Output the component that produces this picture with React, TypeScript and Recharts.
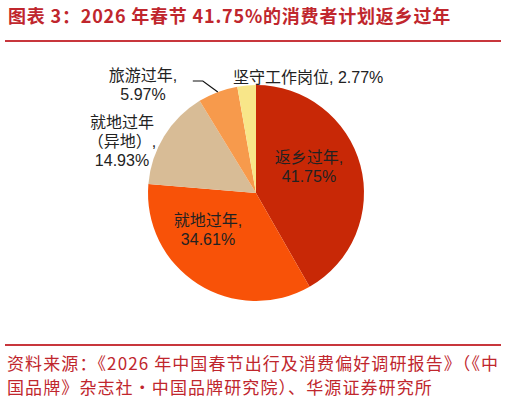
import React from "react";
import { PieChart, Pie, Cell } from "recharts";

const categories = ["返乡过年", "就地过年", "就地过年（异地）", "旅游过年", "坚守工作岗位"];
const shares = [41.75, 34.61, 14.93, 5.97, 2.77];
const labelLines = [
	["返乡过年,", "41.75%"],
	["就地过年,", "34.61%"],
	["就地过年", "（异地）,", "14.93%"],
	["旅游过年,", "5.97%"],
	["坚守工作岗位, 2.77%"],
];

const COLORS = ["#C82806", "#F85208", "#D8BC96", "#F79A4C", "#F8E689"];
const RED = "#C0262D";

// label anchor offsets from pie centre (px), per slice
const LABEL_POS = [
	{ dx: 53, dy: -36, anchor: "middle" },
	{ dx: -48, dy: 27, anchor: "middle" },
	{ dx: -134, dy: -71, anchor: "middle" },
	{ dx: -113, dy: -118, anchor: "middle" },
	{ dx: -23, dy: -116, anchor: "start" },
];

const data = categories.map((name, i) => ({ name, value: shares[i] }));
const RADIAN = Math.PI / 180;

function renderLabel(props: any) {
	const { cx, cy, index } = props;
	const pos = LABEL_POS[index];
	const lines = labelLines[index];
	return (
		<text
			x={cx + pos.dx}
			y={cy + pos.dy}
			textAnchor={pos.anchor}
			dominantBaseline="central"
			fill="#222"
			fontSize={16}
			fontFamily="'Liberation Sans', 'Noto Sans CJK SC', sans-serif"
		>
			{lines.map((l, i) => (
				<tspan key={i} x={cx + pos.dx} dy={i === 0 ? 0 : 19}>
					{l}
				</tspan>
			))}
		</text>
	);
}

function renderLabelLine(props: any) {
	const { cx, cy, midAngle, outerRadius, index } = props;
	if (index !== 3) return <g />;
	const sx = cx + outerRadius * Math.cos(-midAngle * RADIAN);
	const sy = cy + outerRadius * Math.sin(-midAngle * RADIAN);
	const mx = sx - 15;
	const my = sy - 11;
	return (
		<path
			d={`M${sx},${sy} L${mx},${my} L${mx - 10},${my}`}
			stroke="#111"
			strokeWidth={1.2}
			fill="none"
		/>
	);
}

export default function App() {
	return (
		<div
			style={{
				position: "relative",
				width: 506,
				height: 401,
				background: "#fff",
				fontFamily: "'Noto Sans CJK SC', sans-serif",
			}}
		>
			<style>{`body{margin:0}`}</style>
			<div
				style={{
					position: "absolute",
					left: 8,
					top: 2,
					fontSize: 18,
					fontWeight: 700,
					color: RED,
					letterSpacing: 0.8,
					whiteSpace: "nowrap",
					lineHeight: "26px",
				}}
			>
				图表 3：2026 年春节 41.75%的消费者计划返乡过年
			</div>
			<div
				style={{
					position: "absolute",
					left: 5,
					top: 40,
					width: 496,
					height: 2,
					background: "#C8363C",
				}}
			/>
			<div style={{ position: "absolute", left: 0, top: 0 }}>
				<PieChart
					width={506}
					height={401}
					margin={{ top: 0, right: 0, bottom: 0, left: 0 }}
				>
					<Pie
						data={data}
						dataKey="value"
						nameKey="name"
						cx={256}
						cy={193}
						outerRadius={108}
						startAngle={90}
						endAngle={-270}
						stroke="none"
						isAnimationActive={false}
						label={renderLabel}
						labelLine={renderLabelLine}
					>
						{data.map((_, i) => (
							<Cell key={`cell-${i}`} fill={COLORS[i]} />
						))}
					</Pie>
				</PieChart>
			</div>
			<div
				style={{
					position: "absolute",
					left: 5,
					top: 344,
					width: 496,
					height: 2,
					background: "#C8363C",
				}}
			/>
			<div
				style={{
					position: "absolute",
					left: 7,
					top: 351,
					fontSize: 17,
					color: RED,
					letterSpacing: 1.1,
					lineHeight: "24px",
					whiteSpace: "nowrap",
				}}
			>
				<div>资料来源：《2026 年中国春节出行及消费偏好调研报告》（《中</div>
				<div>国品牌》杂志社·中国品牌研究院）、华源证券研究所</div>
			</div>
		</div>
	);
}
